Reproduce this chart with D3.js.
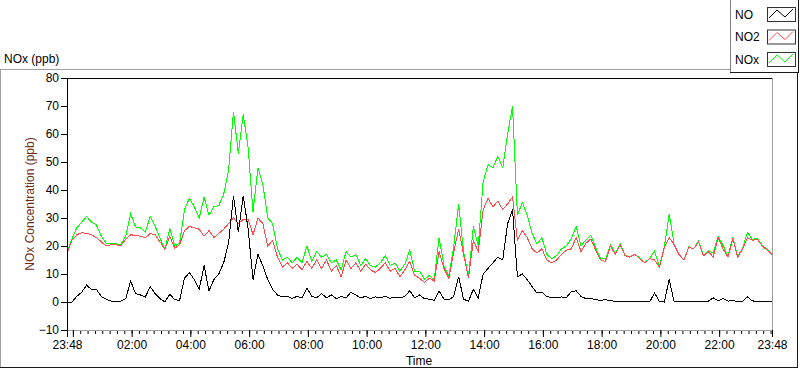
<!DOCTYPE html>
<html>
<head>
<meta charset="utf-8">
<script src="https://cdn.jsdelivr.net/npm/d3@7"></script>
<style>
  body { margin: 0; background: #fff; }
  svg text { font-family: "Liberation Sans", Arial, sans-serif; font-size: 12px; fill: #000; }
  .plotline { fill: none; stroke-width: 1; shape-rendering: crispEdges; }
</style>
</head>
<body>
<div id="chart"></div>
<script>
// 10 minute readings, 23:48 -> 23:48 next day (145 points each)
var no = [0,0,2,3.5,6,4.5,4.5,2,1,0.3,0.2,0.3,1.2,7.5,3,2.5,1.8,5.5,3,1.2,
  0,2.8,0.8,0.6,8.5,10.5,8,4.5,13,4,8,10,14,21,38,25,38,26,8,17,
  13,8,4.5,2.5,1.8,2,1.3,2,1.5,5,2,1.5,3,1.5,2.5,1.2,2,1.5,3.5,2.5,
  1.5,2,1.2,1.8,1.5,2,1.3,1.8,1.5,2,4,1.5,2.5,1.2,1,0.6,4,1,0.7,2,
  9,1,0.3,4.5,1.5,10,12,14,16,15,28,33,9,10,8,5.5,3.2,3.5,2,1.5,
  1.5,1.8,1.6,3.7,4,2,1.2,1.3,0.8,0.6,0.8,0.5,0.2,0.3,0.1,0.2,0,0.2,0.1,0,
  3.2,0.2,0,8,0.2,0.1,0,0.1,0,0.2,0,0.3,1.5,0.5,1.2,0.3,0.5,0.2,0.3,1.8,
  0.4,0.2,0.3,0.2,0];

var no2 = [17.5,22,24,24.8,24.5,24,23,21.5,20,20.5,20.5,20,22.5,24,23.8,23.5,23,24.5,24,21.5,
  18.8,23.5,19.2,20.5,25.5,27,26.5,26,23.5,25.5,23,24.5,26,28,30,28,29.5,29.5,24,30,
  28,20,22,16,12.5,14,12,13.5,11.5,14.5,12,15,12,15,11,13,9,15,12,14,
  11,13.5,11.5,10.5,12,14,11,12,9,11.5,14.5,9.5,8.5,7,8.5,7.5,18,12,8.5,18,
  26,17,8.5,22,18,33,37,34,36,33,35,37.5,22,25.5,23,19,17.5,19,15,14,
  15,17,18.5,19,23,18,21,22.5,18.5,15,14.5,20,17,20.5,16.5,16,17,15.5,14,15.5,
  15,12.5,19.5,23,20.5,17,15,19.5,19,21.5,16.5,18,16,23,19,16,22.5,16,19,23,
  22,22.5,20,18.5,17];

var nox = [17.5,22.5,26.5,28.5,30.5,28.5,27.5,23.5,21,21,20.8,20.5,23.5,31.5,26.8,26.5,25,30.5,27,22.8,
  18.8,26.3,20,21,33,37,34,30,37.5,31,34,34.5,38.5,47,68,53,67,55,32,48,
  42,30,28,19,15,16,14,16,14,20,14.5,18,16,17,14,15,11.5,18,16,17,
  13,15.5,13,12.5,14,16.5,13,14,11,13.5,18.5,11,11,8.2,9.5,8,23,13,9.2,20,
  35,18,8.8,27,20,43,49,48,52,48,60,70,31,35.5,31,24.5,20.7,23,17,15.5,
  16.5,19,20,22.7,27,20,22.2,23.8,19.3,15.6,15.3,20.5,17.2,20.8,16.6,16.2,17,15.7,14.1,15.5,
  18.2,12.7,19.5,31.5,20.7,17.1,15,19.6,19,21.7,16.5,18.3,17.5,23.5,20.2,16.3,23,16.2,19.3,24.8,
  22.4,22.7,20.3,18.7,17];

var seriesNames = ["NO", "NO2", "NOx"];
var seriesColors = ["#000000", "#ff4a4a", "#00ff00"];
var xTickLabels = ["23:48", "", "02:00", "04:00", "06:00", "08:00", "10:00", "12:00",
  "14:00", "16:00", "18:00", "20:00", "22:00", "23:48"];
var yTicks = [-10, 0, 10, 20, 30, 40, 50, 60, 70, 80];

var width = 800, height = 369;
var svg = d3.select("#chart").append("svg")
    .attr("width", width)
    .attr("height", height);

// time scale
var start = new Date(2000, 0, 1, 23, 48);
var end = new Date(2000, 0, 2, 23, 48);
var times = no.map(function(d, i) { return d3.timeMinute.offset(start, i * 10); });

var x = d3.scaleTime().domain([start, end]).range([67, 772]);
var y = d3.scaleLinear().domain([-10, 80]).range([330, 78]);

// outer panel frame
svg.append("line").attr("x1", 0.5).attr("x2", 0.5).attr("y1", 69).attr("y2", 367).attr("stroke", "#a0a0a0");
svg.append("line").attr("x1", 0).attr("x2", 730).attr("y1", 69.5).attr("y2", 69.5).attr("stroke", "#a0a0a0");
svg.append("line").attr("x1", 0).attr("x2", 798).attr("y1", 367.5).attr("y2", 367.5).attr("stroke", "#1a1a1a");
svg.append("line").attr("x1", 797.5).attr("x2", 797.5).attr("y1", 72).attr("y2", 368).attr("stroke", "#1a1a1a");

// plot area box (top black, right/bottom grey)
svg.append("line").attr("x1", 67).attr("x2", 773).attr("y1", 78.5).attr("y2", 78.5).attr("stroke", "#000");
svg.append("line").attr("x1", 772.5).attr("x2", 772.5).attr("y1", 78).attr("y2", 331).attr("stroke", "#a0a0a0");

svg.append("clipPath").attr("id", "plotclip")
  .append("rect").attr("x", 68).attr("y", 79).attr("width", 704).attr("height", 251);

// x axis, major + minor ticks
var majorTicks = [start].concat(d3.timeHour.every(2).range(start, end)).concat([end]);
var minorTicks = d3.timeMinute.every(15).range(start, end);

var xMinor = svg.append("g")
    .attr("transform", "translate(0,330)")
    .call(d3.axisBottom(x).tickValues(minorTicks).tickSize(4).tickSizeOuter(0).tickFormat(""));
xMinor.select(".domain").remove();

var xAxis = svg.append("g")
    .attr("transform", "translate(0,330)")
    .call(d3.axisBottom(x).tickValues(majorTicks).tickSize(7).tickSizeOuter(0).tickPadding(3)
      .tickFormat(function(d, i) { return xTickLabels[i]; }));
xAxis.select(".domain").attr("stroke", "#a0a0a0");
xAxis.selectAll("text").attr("font-size", null).attr("font-family", null);

var yAxis = svg.append("g")
    .attr("transform", "translate(67,0)")
    .call(d3.axisLeft(y).tickValues(yTicks).tickSize(6).tickSizeOuter(0).tickPadding(2));
yAxis.selectAll("text").attr("font-size", null).attr("font-family", null);

// lines: NOx first, then NO2, NO on top
var line = d3.line()
    .x(function(d, i) { return x(times[i]); })
    .y(function(d) { return y(d); });

var plots = [nox, no2, no];
var plotColors = [seriesColors[2], seriesColors[1], seriesColors[0]];
svg.append("g").attr("clip-path", "url(#plotclip)")
  .selectAll("path")
  .data(plots)
  .enter()
  .append("path")
    .attr("class", "plotline")
    .attr("stroke", function(d, i) { return plotColors[i]; })
    .attr("d", line);

// labels
svg.append("text").attr("x", 4).attr("y", 63).text("NOx (ppb)");
svg.append("text")
    .attr("transform", "translate(34,204) rotate(-90)")
    .attr("text-anchor", "middle")
    .style("fill", "#6e2b12")
    .text("NOx Concentration (ppb)");
svg.append("text").attr("x", 419).attr("y", 365).attr("text-anchor", "middle").text("Time");

// legend box
var legend = svg.append("g");
legend.append("line").attr("x1", 730.5).attr("x2", 730.5).attr("y1", 0).attr("y2", 72).attr("stroke", "#808080");
legend.append("line").attr("x1", 730).attr("x2", 798).attr("y1", 72.5).attr("y2", 72.5).attr("stroke", "#1a1a1a");
legend.append("line").attr("x1", 798.5).attr("x2", 798.5).attr("y1", 0).attr("y2", 73).attr("stroke", "#1a1a1a");

var rows = legend.selectAll("g.row")
  .data(seriesNames)
  .enter()
  .append("g")
    .attr("class", "row")
    .attr("transform", function(d, i) { return "translate(0," + (14 + i * 22.5) + ")"; });

rows.append("text").attr("x", 735).attr("y", 4.5).text(function(d) { return d; });
rows.append("rect")
    .attr("x", 767.5).attr("y", -6.5).attr("width", 28).attr("height", 14)
    .attr("fill", "#fff").attr("stroke", "#333");
rows.append("path")
    .attr("d", "M769,4L777,-4L785,3L793,-5")
    .attr("fill", "none")
    .attr("stroke", function(d, i) { return seriesColors[i]; });
</script>
</body>
</html>
